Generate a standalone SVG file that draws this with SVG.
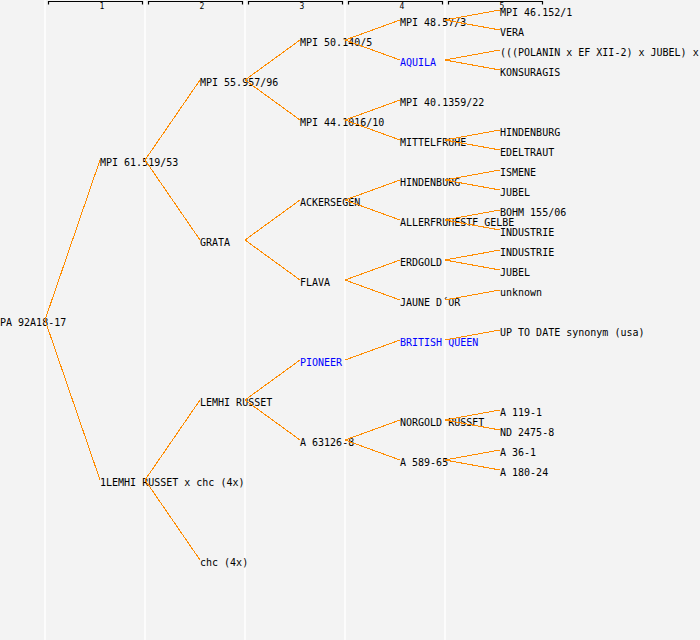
<svg xmlns="http://www.w3.org/2000/svg" width="700" height="640" viewBox="0 0 700 640">
<style>
text{font-family:"DejaVu Sans Mono","Liberation Mono",monospace;font-size:10px;fill:#000}
.b{fill:#0000ff}
.h{font-size:8px;text-anchor:middle}
.c line{stroke:#ff8c00;stroke-width:1;shape-rendering:crispEdges}
.g line{stroke:#ffffff;stroke-width:1.5}
.br{fill:none;stroke:#000;stroke-width:1.2}
</style>
<rect x="0" y="0" width="700" height="640" fill="#f3f3f3"/>
<g class="g">
<line x1="45" y1="0" x2="45" y2="640"/>
<line x1="145" y1="0" x2="145" y2="640"/>
<line x1="245" y1="0" x2="245" y2="640"/>
<line x1="345" y1="0" x2="345" y2="640"/>
<line x1="445" y1="0" x2="445" y2="640"/>
</g>
<g id="header">
<path class="br" d="M48.5,4.5V1.5H142.5V4.5"/>
<path class="br" d="M148.5,4.5V1.5H242.5V4.5"/>
<path class="br" d="M248.5,4.5V1.5H342.5V4.5"/>
<path class="br" d="M348.5,4.5V1.5H442.5V4.5"/>
<path class="br" d="M448.5,4.5V1.5H542.5V4.5"/>
<text class="h" x="102" y="9">1</text>
<text class="h" x="202" y="9">2</text>
<text class="h" x="302" y="9">3</text>
<text class="h" x="402" y="9">4</text>
<text class="h" x="502" y="9">5</text>
</g>
<g id="n0"><text x="0" y="326">PA 92A18-17</text></g>
<g id="n1a"><text x="100" y="166">MPI 61.519/53</text></g>
<g id="n1b"><text x="100" y="486">1LEMHI RUSSET x chc (4x)</text></g>
<g id="n2a"><text x="200" y="86">MPI 55.957/96</text></g>
<g id="n2b"><text x="200" y="246">GRATA</text></g>
<g id="n2c"><text x="200" y="406">LEMHI RUSSET</text></g>
<g id="n2d"><text x="200" y="566">chc (4x)</text></g>
<g id="n3a"><text x="300" y="46">MPI 50.140/5</text></g>
<g id="n3b"><text x="300" y="126">MPI 44.1016/10</text></g>
<g id="n3c"><text x="300" y="206">ACKERSEGEN</text></g>
<g id="n3d"><text x="300" y="286">FLAVA</text></g>
<g id="n3e"><text class="b" x="300" y="366">PIONEER</text></g>
<g id="n3f"><text x="300" y="446">A 63126-8</text></g>
<g id="n4a"><text x="400" y="26">MPI 48.57/3</text></g>
<g id="n4b"><text class="b" x="400" y="66">AQUILA</text></g>
<g id="n4c"><text x="400" y="106">MPI 40.1359/22</text></g>
<g id="n4d"><text x="400" y="146">MITTELFRUHE</text></g>
<g id="n4e"><text x="400" y="186">HINDENBURG</text></g>
<g id="n4f"><text x="400" y="226">ALLERFRUHESTE GELBE</text></g>
<g id="n4g"><text x="400" y="266">ERDGOLD</text></g>
<g id="n4h"><text x="400" y="306">JAUNE D´OR</text></g>
<g id="n4i"><text class="b" x="400" y="346">BRITISH QUEEN</text></g>
<g id="n4j"><text x="400" y="426">NORGOLD RUSSET</text></g>
<g id="n4k"><text x="400" y="466">A 589-65</text></g>
<g id="n5a"><text x="500" y="16">MPI 46.152/1</text></g>
<g id="n5b"><text x="500" y="36">VERA</text></g>
<g id="n5c"><text x="500" y="56">(((POLANIN x EF XII-2) x JUBEL) x</text></g>
<g id="n5d"><text x="500" y="76">KONSURAGIS</text></g>
<g id="n5e"><text x="500" y="136">HINDENBURG</text></g>
<g id="n5f"><text x="500" y="156">EDELTRAUT</text></g>
<g id="n5g"><text x="500" y="176">ISMENE</text></g>
<g id="n5h"><text x="500" y="196">JUBEL</text></g>
<g id="n5i"><text x="500" y="216">BOHM 155/06</text></g>
<g id="n5j"><text x="500" y="236">INDUSTRIE</text></g>
<g id="n5k"><text x="500" y="256">INDUSTRIE</text></g>
<g id="n5l"><text x="500" y="276">JUBEL</text></g>
<g id="n5m"><text x="500" y="296">unknown</text></g>
<g id="n5n"><text x="500" y="336">UP TO DATE synonym (usa)</text></g>
<g id="n5o"><text x="500" y="416">A 119-1</text></g>
<g id="n5p"><text x="500" y="436">ND 2475-8</text></g>
<g id="n5q"><text x="500" y="456">A 36-1</text></g>
<g id="n5r"><text x="500" y="476">A 180-24</text></g>
<g id="connectors" class="c">
<line x1="45" y1="320" x2="100" y2="160"/>
<line x1="45" y1="320" x2="100" y2="480"/>
<line x1="145" y1="160" x2="200" y2="80"/>
<line x1="145" y1="160" x2="200" y2="240"/>
<line x1="145" y1="480" x2="200" y2="400"/>
<line x1="145" y1="480" x2="200" y2="560"/>
<line x1="245" y1="80" x2="300" y2="40"/>
<line x1="245" y1="80" x2="300" y2="120"/>
<line x1="245" y1="240" x2="300" y2="200"/>
<line x1="245" y1="240" x2="300" y2="280"/>
<line x1="245" y1="400" x2="300" y2="360"/>
<line x1="245" y1="400" x2="300" y2="440"/>
<line x1="345" y1="40" x2="400" y2="20"/>
<line x1="345" y1="40" x2="400" y2="60"/>
<line x1="345" y1="120" x2="400" y2="100"/>
<line x1="345" y1="120" x2="400" y2="140"/>
<line x1="345" y1="200" x2="400" y2="180"/>
<line x1="345" y1="200" x2="400" y2="220"/>
<line x1="345" y1="280" x2="400" y2="260"/>
<line x1="345" y1="280" x2="400" y2="300"/>
<line x1="345" y1="360" x2="400" y2="340"/>
<line x1="345" y1="440" x2="400" y2="420"/>
<line x1="345" y1="440" x2="400" y2="460"/>
<line x1="445" y1="20" x2="500" y2="10"/>
<line x1="445" y1="20" x2="500" y2="30"/>
<line x1="445" y1="60" x2="500" y2="50"/>
<line x1="445" y1="60" x2="500" y2="70"/>
<line x1="445" y1="140" x2="500" y2="130"/>
<line x1="445" y1="140" x2="500" y2="150"/>
<line x1="445" y1="180" x2="500" y2="170"/>
<line x1="445" y1="180" x2="500" y2="190"/>
<line x1="445" y1="220" x2="500" y2="210"/>
<line x1="445" y1="220" x2="500" y2="230"/>
<line x1="445" y1="260" x2="500" y2="250"/>
<line x1="445" y1="260" x2="500" y2="270"/>
<line x1="445" y1="300" x2="500" y2="290"/>
<line x1="445" y1="340" x2="500" y2="330"/>
<line x1="445" y1="420" x2="500" y2="410"/>
<line x1="445" y1="420" x2="500" y2="430"/>
<line x1="445" y1="460" x2="500" y2="450"/>
<line x1="445" y1="460" x2="500" y2="470"/>
</g>
</svg>
